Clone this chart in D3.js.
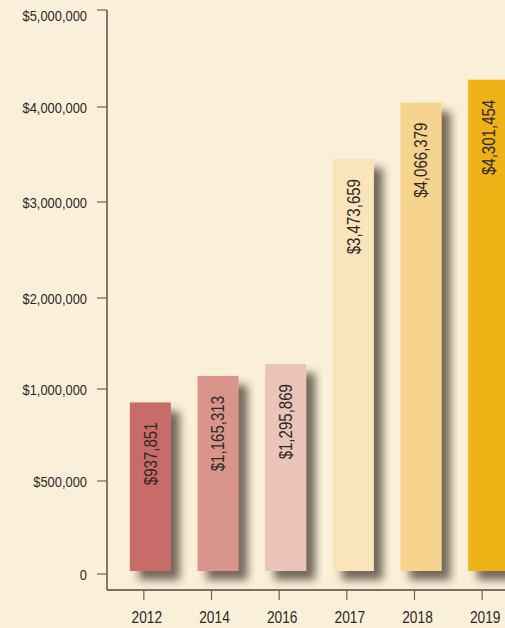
<!DOCTYPE html>
<html lang="en">
<head>
  <meta charset="UTF-8" />
  <title>Funding by Year</title>
  <script src="https://cdn.jsdelivr.net/npm/d3@7"></script>
  <style>
    body {
      margin: 0;
      background: #faefd8;
    }
    text {
      font-family: "Liberation Sans", Arial, sans-serif;
      fill: #2e2a26;
    }
  </style>
</head>
<body>
  <div id="chart"></div>
  <script>
    // data
    var years = ["2012", "2014", "2016", "2017", "2018", "2019"];
    var amounts = [937851, 1165313, 1295869, 3473659, 4066379, 4301454];
    var barColors = ["#c86c6b", "#d9958c", "#eac4b8", "#fae4bb", "#f6d48e", "#eeb214"];
    var yTicks = [0, 500000, 1000000, 2000000, 3000000, 4000000, 5000000];

    var w = 505;
    var h = 628;
    var squeeze = 0.86; // condensed look of the original type

    var svg = d3.select("#chart")
      .append("svg")
      .attr("width", w)
      .attr("height", h);

    // bar shadow
    var defs = svg.append("defs");
    defs.append("filter")
      .attr("id", "shadow")
      .attr("x", "-20%").attr("y", "-20%")
      .attr("width", "160%").attr("height", "140%")
      .append("feDropShadow")
      .attr("dx", 9)
      .attr("dy", 9)
      .attr("stdDeviation", 4)
      .attr("flood-color", "#3e3528")
      .attr("flood-opacity", 0.72);

    // the axis is broken: 0-1M gets the same room as each 1M step above it
    var y = d3.scaleLinear()
      .domain(yTicks)
      .range([574, 481, 389, 298, 202, 107, 10]);

    var x = d3.scaleBand()
      .domain(years)
      .range([110, 516])
      .padding(0);

    var axisX = 107;
    var axisY = 590;

    var fmt = d3.format("$,");

    // y axis
    var gy = svg.append("g");
    gy.append("line")
      .attr("x1", axisX).attr("x2", axisX)
      .attr("y1", y(5000000)).attr("y2", axisY)
      .attr("stroke", "#4d4741")
      .attr("stroke-width", 1.4);
    gy.selectAll(".ytick")
      .data(yTicks)
      .enter()
      .append("line")
      .attr("class", "ytick")
      .attr("x1", axisX - 10).attr("x2", axisX)
      .attr("y1", function(d) { return y(d); })
      .attr("y2", function(d) { return y(d); })
      .attr("stroke", "#6b645c")
      .attr("stroke-width", 1.2);
    gy.selectAll(".ylab")
      .data(yTicks)
      .enter()
      .append("text")
      .attr("class", "ylab")
      .attr("transform", function(d) {
        return "translate(87," + Math.max(y(d), 15) + ") scale(" + squeeze + ",1)";
      })
      .attr("dy", "0.38em")
      .attr("text-anchor", "end")
      .attr("font-size", "15px")
      .text(function(d) { return d === 0 ? "0" : fmt(d); });

    // bars
    var bars = svg.append("g");
    bars.selectAll("rect")
      .data(amounts)
      .enter()
      .append("rect")
      .attr("x", function(d, i) { return x(years[i]) + x.bandwidth() / 2 - 14; })
      .attr("y", function(d) { return y(d) + 2; })
      .attr("width", 41)
      .attr("height", function(d) { return y(0) - 5 - y(d); })
      .attr("fill", function(d, i) { return barColors[i]; })
      .attr("filter", "url(#shadow)");

    // value labels, rotated inside bars
    bars.selectAll("text")
      .data(amounts)
      .enter()
      .append("text")
      .attr("transform", function(d, i) {
        var cx = x(years[i]) + x.bandwidth() / 2 + 6.5;
        return "translate(" + cx + "," + (y(d) + 22) + ") rotate(-90) scale(" + squeeze + ",1)";
      })
      .attr("dy", "0.36em")
      .attr("text-anchor", "end")
      .attr("font-size", "17.5px")
      .text(function(d) { return fmt(d); });

    // x axis
    var gx = svg.append("g");
    gx.append("line")
      .attr("x1", axisX).attr("x2", w)
      .attr("y1", axisY).attr("y2", axisY)
      .attr("stroke", "#4d4741")
      .attr("stroke-width", 1.4);
    gx.selectAll(".xtick")
      .data(years)
      .enter()
      .append("line")
      .attr("class", "xtick")
      .attr("x1", function(d) { return x(d) + x.bandwidth() / 2; })
      .attr("x2", function(d) { return x(d) + x.bandwidth() / 2; })
      .attr("y1", axisY).attr("y2", axisY + 10)
      .attr("stroke", "#6b645c")
      .attr("stroke-width", 1.2);
    gx.selectAll(".xlab")
      .data(years)
      .enter()
      .append("text")
      .attr("class", "xlab")
      .attr("transform", function(d) {
        return "translate(" + (x(d) + x.bandwidth() / 2 + 3) + ",623) scale(" + squeeze + ",1)";
      })
      .attr("text-anchor", "middle")
      .attr("font-size", "16px")
      .text(function(d) { return d; });
  </script>
</body>
</html>
